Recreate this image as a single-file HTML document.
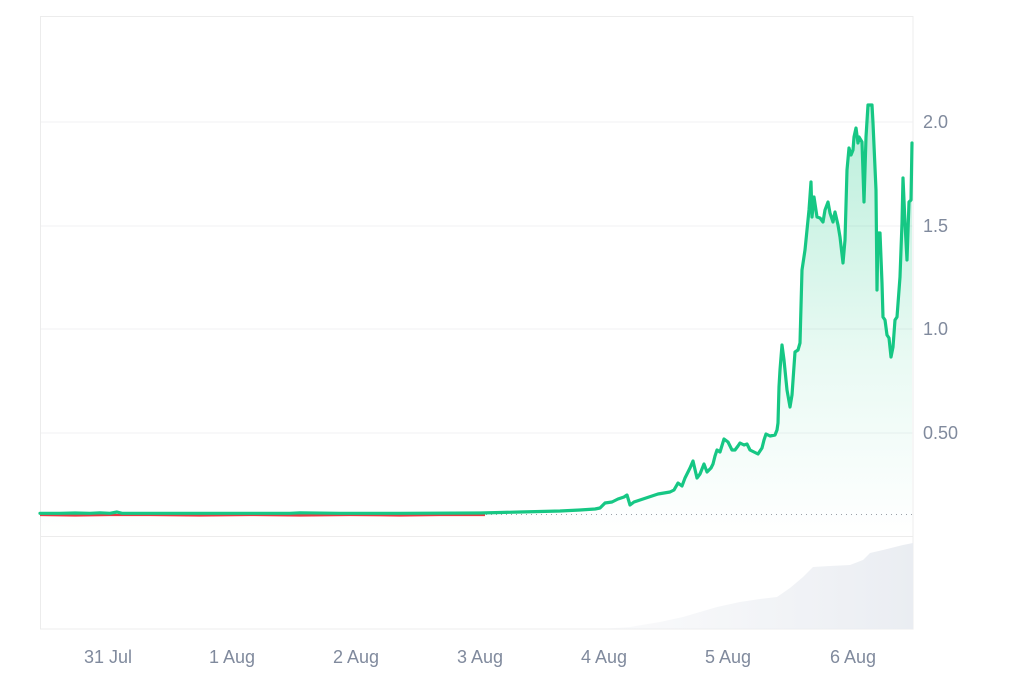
<!DOCTYPE html>
<html>
<head>
<meta charset="utf-8">
<style>
html,body{margin:0;padding:0;background:#fff;}
svg{display:block;}
text{font-family:"Liberation Sans",sans-serif;font-size:18px;fill:#808a9d;}
</style>
</head>
<body>
<svg width="1024" height="683" viewBox="0 0 1024 683" xmlns="http://www.w3.org/2000/svg">
<defs>
<linearGradient id="g" x1="0" y1="0" x2="0" y2="1">
<stop offset="0" stop-color="#16c784" stop-opacity="0.3"/>
<stop offset="0.6" stop-color="#16c784" stop-opacity="0.09"/>
<stop offset="1" stop-color="#16c784" stop-opacity="0.0"/>
</linearGradient>
<linearGradient id="v" x1="0" y1="0" x2="1" y2="0">
<stop offset="0" stop-color="#eef0f4" stop-opacity="0.3"/>
<stop offset="1" stop-color="#eaedf2"/>
</linearGradient>
</defs>
<rect x="40.5" y="16.5" width="872.5" height="612.5" fill="none" stroke="#ececec" stroke-width="1"/>
<g stroke="#f0f1f3" stroke-width="1">
<line x1="41" y1="122" x2="913" y2="122"/>
<line x1="41" y1="226" x2="913" y2="226"/>
<line x1="41" y1="329" x2="913" y2="329"/>
<line x1="41" y1="433" x2="913" y2="433"/>
</g>
<line x1="41" y1="536.5" x2="913" y2="536.5" stroke="#ececec" stroke-width="1"/>
<path d="M600,629 L630,627 L660,622 L683,617 L700,612 L717,607 L740,602 L760,599 L777,597 L790,588 L803,577 L813,567 L830,566 L850,565 L863,560 L870,553 L883,550 L895,547 L903,545 L913,543 L913,629 Z" fill="url(#v)"/>
<path d="M40,513.5 L480,513 L500,512.5 L520,512 L540,511.5 L560,511 L580,510 L595,509 L600,508 L605,503 L612,502 L618,499 L624,497 L627,495 L630,505 L634,502 L640,500 L646,498 L652,496 L658,494 L664,493 L670,492 L674,490 L678,483 L682,486 L685,478 L687,474 L690,468 L693,461 L697,478 L700,474 L704,464 L707,472 L711,468 L713,464 L715,456 L717,450 L720,452 L724,439 L728,442 L730,446 L732,450 L735,450 L738,446 L740,443 L744,445 L747,444 L750,450 L754,452 L758,454 L762,448 L764,440 L766,434 L770,436 L775,435 L777,430 L778,423 L779,387 L780,370 L782,345 L784,360 L787,390 L790,407 L792,395 L795,352 L798,350 L800,343 L802,270 L805,250 L807,230 L809,210 L811,182 L812,217 L814,197 L817,217 L820,218 L823,222 L825,210 L828,202 L830,213 L833,222 L835,212 L838,225 L840,237 L843,263 L845,240 L847,170 L849,148 L851,155 L853,150 L854,137 L856,128 L858,143 L859,137 L862,142 L864,202 L866,137 L868,105 L872,105 L873,123 L876,190 L877,290 L878,233 L880,233 L882,283 L883,317 L885,320 L887,335 L889,338 L891,357 L893,347 L895,320 L897,317 L900,277 L902,223 L903,178 L905,223 L907,260 L909,202 L911,200 L912,143 L912,536 L40,536 Z" fill="url(#g)"/>
<line x1="41" y1="514.5" x2="912" y2="514.5" stroke="#9aa0a8" stroke-width="1" stroke-dasharray="1,4"/>
<polyline points="40,515 75,515.5 110,515 150,515 200,515.5 250,515 300,515.5 350,515 400,515.5 440,515 485,515" fill="none" stroke="#ea3943" stroke-width="2.2"/>
<polyline fill="none" stroke="#16c784" stroke-width="3.2" stroke-linejoin="round" stroke-linecap="round" points="40,513.3 60,513.3 75,513 90,513.3 100,512.8 110,513.3 117,512 122,513.3 160,513.3 200,513.3 240,513.3 290,513.3 300,512.8 340,513.3 400,513.3 480,513 500,512.5 520,512 540,511.5 560,511 580,510 595,509 600,508 605,503 612,502 618,499 624,497 627,495 630,505 634,502 640,500 646,498 652,496 658,494 664,493 670,492 674,490 678,483 682,486 685,478 687,474 690,468 693,461 697,478 700,474 704,464 707,472 711,468 713,464 715,456 717,450 720,452 724,439 728,442 730,446 732,450 735,450 738,446 740,443 744,445 747,444 750,450 754,452 758,454 762,448 764,440 766,434 770,436 775,435 777,430 778,423 779,387 780,370 782,345 784,360 787,390 790,407 792,395 795,352 798,350 800,343 802,270 805,250 807,230 809,210 811,182 812,217 814,197 817,217 820,218 823,222 825,210 828,202 830,213 833,222 835,212 838,225 840,237 843,263 845,240 847,170 849,148 851,155 853,150 854,137 856,128 858,143 859,137 862,142 864,202 866,137 868,105 872,105 873,123 876,190 877,290 878,233 880,233 882,283 883,317 885,320 887,335 889,338 891,357 893,347 895,320 897,317 900,277 902,223 903,178 905,223 907,260 909,202 911,200 912,143"/>
<text x="923" y="128">2.0</text>
<text x="923" y="232">1.5</text>
<text x="923" y="335">1.0</text>
<text x="923" y="439">0.50</text>
<g text-anchor="middle">
<text x="108" y="663">31 Jul</text>
<text x="232" y="663">1 Aug</text>
<text x="356" y="663">2 Aug</text>
<text x="480" y="663">3 Aug</text>
<text x="604" y="663">4 Aug</text>
<text x="728" y="663">5 Aug</text>
<text x="853" y="663">6 Aug</text>
</g>
</svg>
</body>
</html>
